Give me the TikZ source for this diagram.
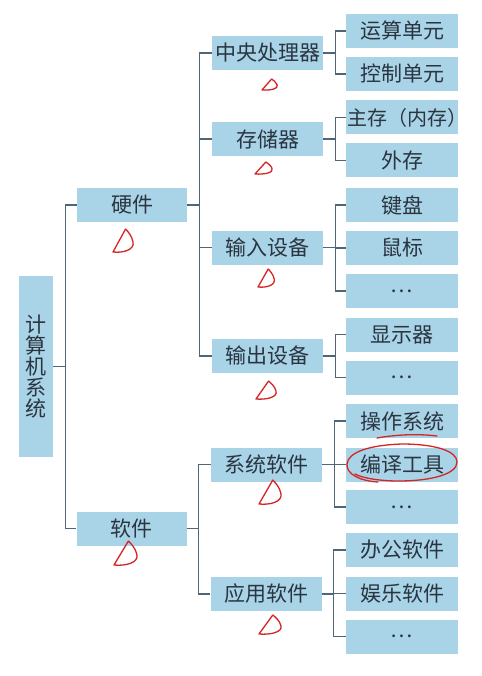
\documentclass[tikz,border=0pt]{standalone}
\usepackage{fontspec}
\setmainfont{Noto Sans CJK SC}
\usetikzlibrary{calc}
\definecolor{boxblue}{HTML}{A9D3E6}
\definecolor{linec}{HTML}{4F6678}
\definecolor{txt}{HTML}{2A3541}
\definecolor{ink}{HTML}{D42626}
\newcommand{\inkmark}[4]{%
  \begin{scope}[shift={(#1,#2)},xscale=#3/20,yscale=#4/20]
    \draw[inkline] (12,0) -- (0,20) .. controls (10,21) and (21,18) .. (19,11) .. controls (18,6) and (14,2) .. (12,0);
  \end{scope}}
\begin{document}
\begin{tikzpicture}[x=1pt,y=-1pt,
  box/.style={fill=boxblue,inner sep=0pt,text=txt,font=\fontsize{21}{21}\selectfont},
  lone/.style={box,minimum width=110pt,minimum height=34pt},
  ltwo/.style={box,minimum width=111pt,minimum height=34pt},
  lthree/.style={box,minimum width=112pt,minimum height=34pt},
  conn/.style={draw=linec,line width=1.4pt},
  inkline/.style={draw=ink,line width=1.3pt,line cap=round,line join=round}]
\useasboundingbox[fill=white] (0,0) rectangle (481,676);
% root
\node[box,minimum width=34pt,minimum height=181pt,align=center] (root) at (36,366.5) {计\\算\\机\\系\\统};
% level 1
\node[lone] (hw) at (132,205) {硬件};
\node[lone] (sw) at (131.5,528.5) {软件};
% level 2
\node[ltwo] (cpu) at (267.5,53) {中央处理器};
\node[ltwo] (mem) at (267.5,139) {存储器};
\node[ltwo] (inp) at (267.5,247.5) {输入设备};
\node[ltwo] (out) at (267.5,356) {输出设备};
\node[ltwo] (sys) at (266.5,464.5) {系统软件};
\node[ltwo] (app) at (266,594) {应用软件};
% level 3
\node[lthree] (c1) at (402,31) {运算单元};
\node[lthree] (c2) at (402,74) {控制单元};
\node[lthree,font=\fontsize{20}{20}\selectfont] (c3) at (402,117.5) {\makebox[112pt][l]{\kern1pt 主存（内存）\hss}};
\node[lthree] (c4) at (402,160.5) {外存};
\node[lthree] (c5) at (402,205) {键盘};
\node[lthree] (c6) at (402,248) {鼠标};
\node[lthree] (c7) at (402,291) {…};
\node[lthree] (c8) at (402,334.5) {显示器};
\node[lthree] (c9) at (402,377.5) {…};
\node[lthree] (c10) at (402,421) {操作系统};
\node[lthree] (c11) at (402,464.5) {编译工具};
\node[lthree] (c12) at (402,507) {…};
\node[lthree] (c13) at (402,550) {办公软件};
\node[lthree] (c14) at (402,593.5) {娱乐软件};
\node[lthree] (c15) at (402,636.5) {…};
% connectors
\path (root.east) ++(12,0) coordinate (jr);
\draw[conn] (root.east) -- (jr);
\draw[conn] (jr) |- (hw.west);
\draw[conn] (jr) |- (sw.west);
\path (hw.east) ++(12,0) coordinate (jh);
\draw[conn] (hw.east) -- (jh);
\foreach \c in {cpu,mem,inp,out} \draw[conn] (jh) |- (\c.west);
\path (sw.east) ++(12,0) coordinate (js);
\draw[conn] (sw.east) -- (js);
\foreach \c in {sys,app} \draw[conn] (js) |- (\c.west);
\newcommand{\bracket}[2]{%
  \path (#1.east) ++(12,0) coordinate (j#1);
  \draw[conn] (#1.east) -- (j#1);
  \foreach \c in {#2} \draw[conn] (j#1) |- (\c.west);}
\bracket{cpu}{c1,c2}
\bracket{mem}{c3,c4}
\bracket{inp}{c5,c6,c7}
\bracket{out}{c8,c9}
\bracket{sys}{c10,c11,c12}
\bracket{app}{c13,c14,c15}
% red handwritten marks
\inkmark{113}{229}{21}{23}
\inkmark{262}{79}{16}{11}
\inkmark{255}{162}{18}{12}
\inkmark{258}{269}{17}{18}
\inkmark{256}{381}{21}{18}
\inkmark{259}{480}{23}{24}
\inkmark{114}{541}{24}{24}
\inkmark{259}{615}{23}{19}
\draw[inkline] (377,438) .. controls (400,434) and (420,434) .. (437,436);
\draw[inkline] (378,482) .. controls (360,481) and (346,474) .. (347,464)
  .. controls (348,452) and (370,445) .. (402,444)
  .. controls (435,444) and (457,451) .. (457,462)
  .. controls (457,474) and (432,481) .. (398,481)
  .. controls (380,481) and (362,478) .. (355,474);
\end{tikzpicture}
\end{document}
